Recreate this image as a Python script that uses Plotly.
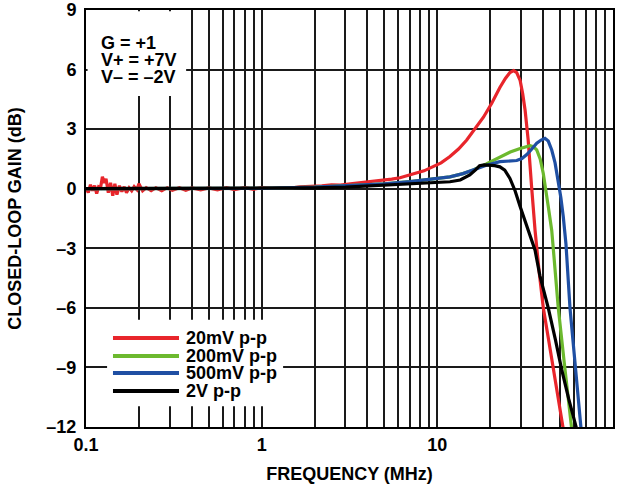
import plotly.graph_objects as go

# ---------------- data ----------------
red_f = [0.100, 0.103, 0.106, 0.109, 0.112, 0.115, 0.118, 0.121, 0.124, 0.127, 0.130,
         0.134, 0.138, 0.142, 0.146, 0.150, 0.155, 0.160, 0.165, 0.170, 0.176, 0.182,
         0.188, 0.195, 0.200, 0.210, 0.220, 0.235, 0.250, 0.270, 0.290, 0.310, 0.340,
         0.370, 0.400, 0.450, 0.500, 0.560, 0.630, 0.700, 0.800, 0.900, 1.00, 1.15,
         1.30, 1.50, 1.65, 1.90, 2.20, 2.50, 2.80, 3.20, 3.60, 3.96, 4.40, 4.90, 5.50,
         6.13, 6.80, 7.50, 8.40, 9.48, 10.5, 11.8, 13.2, 14.7, 16.4, 18.3, 20.4, 22.7,
         24.4, 25.9, 27.2, 28.3, 29.6, 30.6, 31.6, 32.9, 34.4, 36.0, 38.0, 40.1, 42.8,
         45.7, 48.8, 52.1]
red_db = [0.05, -0.20, 0.20, -0.10, 0.15, -0.25, 0.10, 0.05, 0.60, 0.30, 0.50,
          -0.20, 0.30, -0.35, 0.25, -0.30, 0.15, -0.15, 0.10, -0.20, 0.05, -0.10,
          0.10, -0.05, 0.25, -0.10, 0.05, -0.10, 0.05, -0.10, 0.05, -0.08, 0.05,
          -0.08, 0.04, -0.06, 0.04, -0.06, 0.05, -0.04, 0.05, -0.03, 0.05, 0.02,
          0.06, 0.05, 0.10, 0.12, 0.15, 0.20, 0.18, 0.25, 0.30, 0.32, 0.38, 0.42, 0.48,
          0.55, 0.65, 0.78, 0.90, 1.10, 1.30, 1.62, 2.00, 2.45, 3.00, 3.60, 4.30, 5.10,
          5.55, 5.85, 5.95, 5.85, 5.45, 4.80, 3.95, 2.45, 0.10, -2.10, -4.20, -6.00, -7.50,
          -9.10, -10.60, -12.10]

green_f = [0.100, 0.300, 1.00, 2.00, 3.00, 5.00, 7.00, 9.00, 11.8, 14.0, 16.0, 19.0,
           22.7, 26.0, 29.6, 32.0, 33.7, 35.2, 36.8, 38.5, 40.1, 42.8, 44.8, 45.7,
           48.8, 53.3, 58.2]
green_db = [0.00, 0.00, 0.02, 0.08, 0.14, 0.25, 0.36, 0.47, 0.60, 0.76, 0.94, 1.25,
            1.61, 1.85, 2.03, 2.13, 2.17, 2.12, 1.95, 1.50, 0.77, -0.90, -2.10, -3.00,
            -6.00, -9.10, -12.10]

blue_f = [0.100, 0.300, 1.00, 2.00, 3.00, 5.00, 7.00, 9.00, 11.8, 14.0, 16.0, 19.0,
          22.7, 25.5, 28.3, 30.3, 32.3, 34.5, 36.8, 39.0, 41.0, 42.8, 44.8, 46.8,
          48.8, 50.5, 52.1, 54.0, 56.9, 61.5, 65.8]
blue_db = [0.00, 0.00, 0.02, 0.08, 0.14, 0.25, 0.36, 0.47, 0.60, 0.76, 0.94, 1.18,
           1.36, 1.40, 1.42, 1.52, 1.72, 2.00, 2.29, 2.45, 2.54, 2.40, 1.95, 1.30,
           0.44, -0.45, -1.40, -2.80, -6.00, -9.10, -12.10]

black_f = [0.100, 0.300, 1.00, 2.00, 3.00, 4.50, 6.10, 8.00, 10.0, 11.8, 13.5, 15.3,
           16.5, 17.4, 18.5, 19.8, 21.2, 22.7, 24.2, 25.9, 27.7, 29.6, 31.5, 33.7,
           36.0, 38.4, 42.8, 47.0, 51.0, 56.0, 62.1]
black_db = [0.00, 0.00, 0.00, 0.04, 0.08, 0.15, 0.22, 0.28, 0.32, 0.35, 0.44, 0.69,
            0.95, 1.16, 1.20, 1.19, 1.16, 1.10, 0.94, 0.52, -0.10, -0.90, -1.60, -2.25,
            -3.10, -4.40, -6.00, -7.60, -9.10, -10.60, -12.10]

series = [
    ("20mV p-p", red_f, red_db, "#e8252b"),
    ("200mV p-p", green_f, green_db, "#6cb92e"),
    ("500mV p-p", blue_f, blue_db, "#1f4fa3"),
    ("2V p-p", black_f, black_db, "#000000"),
]

x_ticks = [0.1, 1, 10, 100]
x_ticklabels = ["0.1", "1", "10", "100"]
x_minor = [m * d for d in (0.1, 1, 10) for m in range(2, 10)]
y_ticks = [9, 6, 3, 0, -3, -6, -9, -12]
y_ticklabels = ["9", "6", "3", "0", "–3", "–6", "–9", "–12"]
notes = ["G = +1", "V+ = +7V", "V– = –2V"]

# ---------------- figure ----------------
FONT = "Liberation Sans"
FS = 18
GRID = "#1a1a1a"

fig = go.Figure()
for name, f, db, col in series:
    fig.add_trace(go.Scatter(x=f, y=db, mode="lines", name=name,
                             line=dict(color=col, width=3.2), showlegend=False))

fig.update_layout(
    width=626, height=486,
    margin=dict(l=86, r=13, t=10, b=59),
    paper_bgcolor="white", plot_bgcolor="white",
    font=dict(family=FONT, size=FS, color="black", weight="bold"),
)
fig.update_xaxes(
    type="log", range=[-1, 2], automargin=False,
    tickvals=x_ticks, ticktext=x_ticklabels,
    showgrid=True, gridcolor=GRID, gridwidth=1.5,
    minor=dict(tickvals=x_minor, showgrid=True, gridcolor=GRID, gridwidth=1.5),
    showline=True, linecolor="black", linewidth=2, mirror=True,
    ticks="", zeroline=False,
    title=dict(text="FREQUENCY (MHz)", font=dict(size=FS), standoff=14),
)
fig.update_yaxes(
    range=[-12, 9], automargin=False,
    tickvals=y_ticks, ticktext=y_ticklabels,
    showgrid=True, gridcolor=GRID, gridwidth=1.5,
    showline=True, linecolor="black", linewidth=2, mirror=True,
    ticks="", zeroline=False, ticklabelstandoff=4,
    title=dict(text="CLOSED-LOOP GAIN (dB)", font=dict(size=FS), standoff=20),
)

shapes = []
# white box behind the condition notes
shapes.append(dict(type="rect", xref="paper", yref="paper", x0=0.003, x1=0.19,
                   y0=0.794, y1=0.997, fillcolor="white", line=dict(width=0),
                   layer="above"))
# white box behind the legend
shapes.append(dict(type="rect", xref="paper", yref="paper", x0=0.04, x1=0.374,
                   y0=0.05, y1=0.257, fillcolor="white", line=dict(width=0),
                   layer="above"))
annotations = []
leg_y = [0.2134, 0.170, 0.1295, 0.0863]
for (name, f, db, col), yy in zip(series, leg_y):
    shapes.append(dict(type="line", xref="paper", yref="paper", x0=0.0512, x1=0.1765,
                       y0=yy, y1=yy, line=dict(color=col, width=4), layer="above"))
    annotations.append(dict(xref="paper", yref="paper", x=0.186, y=yy, text=name,
                            showarrow=False, xanchor="left", yanchor="middle",
                            font=dict(size=FS)))
for txt, yy in zip(notes, [0.921, 0.880, 0.839]):
    annotations.append(dict(xref="paper", yref="paper", x=0.024, y=yy, text=txt,
                            showarrow=False, xanchor="left", yanchor="middle",
                            font=dict(size=FS)))
fig.update_layout(shapes=shapes, annotations=annotations)

fig.write_html("out.html")
